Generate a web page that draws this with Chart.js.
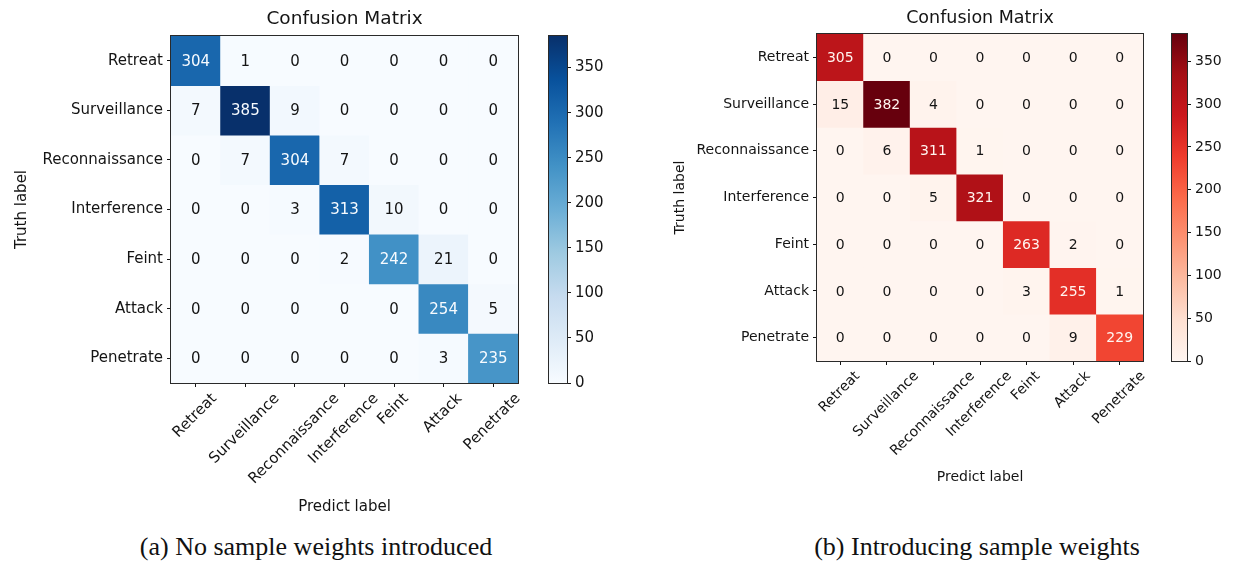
<!DOCTYPE html>
<html>
<head>
<meta charset="utf-8">
<script src="https://cdn.jsdelivr.net/npm/chart.js@4.4.1/dist/chart.umd.min.js"></script>
<style>
  html, body { margin: 0; padding: 0; background: #fff; }
  body { width: 1235px; height: 562px; position: relative; overflow: hidden; }
  canvas { position: absolute; }
  .cap {
    position: absolute; top: 531px; transform: translateX(-50%);
    font-family: "Liberation Serif", "Times New Roman", serif;
    font-size: 26px; line-height: 32px; color: #111; white-space: nowrap;
  }
</style>
</head>
<body>
<canvas id="cmA" width="540" height="530" style="left:0;top:0"></canvas>
<canvas id="cbA" width="77" height="400" style="left:540px;top:0"></canvas>
<canvas id="cmB" width="545" height="500" style="left:620px;top:0"></canvas>
<canvas id="cbB" width="75" height="380" style="left:1160px;top:0"></canvas>
<div class="cap" style="left:316px">(a) No sample weights introduced</div>
<div class="cap" style="left:977px">(b) Introducing sample weights</div>

<script>
// Class names (rows = truth, columns = prediction)
const classLabels = ['Retreat', 'Surveillance', 'Reconnaissance', 'Interference', 'Feint', 'Attack', 'Penetrate'];

// Confusion counts without sample weights
const countsNoWeights = [
  [304,   1,   0,   0,   0,   0,   0],
  [  7, 385,   9,   0,   0,   0,   0],
  [  0,   7, 304,   7,   0,   0,   0],
  [  0,   0,   3, 313,  10,   0,   0],
  [  0,   0,   0,   2, 242,  21,   0],
  [  0,   0,   0,   0,   0, 254,   5],
  [  0,   0,   0,   0,   0,   3, 235]
];

// Confusion counts with sample weights
const countsWeighted = [
  [305,   0,   0,   0,   0,   0,   0],
  [ 15, 382,   4,   0,   0,   0,   0],
  [  0,   6, 311,   1,   0,   0,   0],
  [  0,   0,   5, 321,   0,   0,   0],
  [  0,   0,   0,   0, 263,   2,   0],
  [  0,   0,   0,   0,   3, 255,   1],
  [  0,   0,   0,   0,   0,   9, 229]
];

// Colour-bar tick values
const colorbarTicks = [0, 50, 100, 150, 200, 250, 300, 350];

// Sequential colour maps
const BLUES = ['#f7fbff', '#deebf7', '#c6dbef', '#9ecae1', '#6baed6', '#4292c6', '#2171b5', '#08519c', '#08306b'];
const REDS  = ['#fff5f0', '#fee0d2', '#fcbba1', '#fc9272', '#fb6a4a', '#ef3b2c', '#cb181d', '#a50f15', '#67000d'];

const FONT = '"DejaVu Sans", "Liberation Sans", sans-serif';
const INK = '#141414';

function hexToRgb(h) {
  const n = parseInt(h.slice(1), 16);
  return [(n >> 16) & 255, (n >> 8) & 255, n & 255];
}
function makeCmap(stops) {
  const rgb = stops.map(hexToRgb);
  return t => {
    t = Math.min(1, Math.max(0, t));
    const p = t * (rgb.length - 1);
    const i = Math.min(Math.floor(p), rgb.length - 2);
    const f = p - i;
    const a = rgb[i], b = rgb[i + 1];
    const c = a.map((v, k) => Math.round(v + (b[k] - v) * f));
    return `rgb(${c[0]},${c[1]},${c[2]})`;
  };
}

// Thin frame around the plotting area
const framePlugin = {
  id: 'frame',
  afterDatasetsDraw(chart) {
    const a = chart.chartArea, ctx = chart.ctx;
    ctx.save();
    ctx.strokeStyle = '#2a2a2a';
    ctx.lineWidth = 1;
    ctx.strokeRect(a.left - 0.5, a.top - 0.5, a.width + 1, a.height + 1);
    ctx.restore();
  }
};

function matrixChart(id, counts, stops, d) {
  const cmap = makeCmap(stops);
  const vmax = Math.max(...counts.flat());
  const datasets = counts.map((row, i) => ({
    label: classLabels[i],
    data: row.map(() => [i - 0.5, i + 0.5]),
    backgroundColor: row.map(v => cmap(v / vmax)),
    borderWidth: 0,
    grouped: false,
    barPercentage: 1,
    categoryPercentage: 1
  }));

  // Count written in the middle of every cell
  const cellText = {
    id: 'cellText',
    afterDatasetsDraw(chart) {
      const ctx = chart.ctx, xs = chart.scales.x, ys = chart.scales.y;
      ctx.save();
      ctx.font = `${d.tick}px ${FONT}`;
      ctx.textAlign = 'center';
      ctx.textBaseline = 'middle';
      counts.forEach((row, i) => row.forEach((v, j) => {
        ctx.fillStyle = v > vmax / 2 ? stops[0] : INK;
        ctx.fillText(String(v), xs.getPixelForValue(j), ys.getPixelForValue(i) + 1);
      }));
      ctx.restore();
    }
  };

  // Column labels rotated 45°, each centred under its tick
  const xLabels = {
    id: 'xLabels',
    afterDraw(chart) {
      const ctx = chart.ctx, xs = chart.scales.x;
      const h = d.tick * 1.16;
      const y0 = chart.chartArea.bottom + 4 + d.labelPad;
      ctx.save();
      ctx.font = `${d.tick}px ${FONT}`;
      ctx.fillStyle = INK;
      ctx.textAlign = 'right';
      ctx.textBaseline = 'top';
      classLabels.forEach((lab, j) => {
        const w = ctx.measureText(lab).width;
        const x0 = xs.getPixelForValue(j) + 0.3536 * (w - h);
        ctx.save();
        ctx.translate(x0, y0);
        ctx.rotate(-Math.PI / 4);
        ctx.fillText(lab, 0, 0);
        ctx.restore();
      });
      ctx.restore();
    }
  };

  const lh = d.title * 1.2;
  const axisLh = d.tick * 1.2;
  const tickFont = { family: FONT, size: d.tick };

  return new Chart(document.getElementById(id), {
    type: 'bar',
    data: { labels: classLabels, datasets },
    options: {
      responsive: false,
      animation: false,
      devicePixelRatio: 1,
      layout: { padding: { left: 0, top: 0, right: d.W - d.right, bottom: 0 } },
      plugins: {
        legend: { display: false },
        tooltip: { enabled: false },
        title: {
          display: true,
          text: 'Confusion Matrix',
          fullSize: false,
          color: INK,
          font: { family: FONT, size: d.title, weight: 'normal', lineHeight: 1.2 },
          padding: { top: d.titleY - lh / 2, bottom: d.top - (d.titleY - lh / 2) - lh }
        }
      },
      scales: {
        x: {
          type: 'category',
          offset: true,
          grid: { display: true, drawOnChartArea: false, drawTicks: true, tickLength: 4, color: INK, offset: false },
          border: { display: false },
          ticks: { display: false, autoSkip: false },
          title: {
            display: true,
            text: 'Predict label',
            color: INK,
            font: { family: FONT, size: d.tick, lineHeight: 1.2 },
            padding: { top: 0, bottom: d.H - d.predictY - axisLh / 2 }
          },
          afterFit: s => { s.height = d.H - d.bottom; }
        },
        y: {
          type: 'linear',
          min: -0.5,
          max: 6.5,
          reverse: true,
          afterBuildTicks: s => { s.ticks = classLabels.map((_, i) => ({ value: i })); },
          grid: { display: true, drawOnChartArea: false, drawTicks: true, tickLength: 4, color: INK },
          border: { display: false },
          ticks: {
            padding: 4,
            color: INK,
            font: tickFont,
            callback: v => classLabels[v]
          },
          title: {
            display: true,
            text: 'Truth label',
            color: INK,
            font: { family: FONT, size: d.tick, lineHeight: 1.2 },
            padding: { top: d.truthX - axisLh / 2, bottom: 0 }
          },
          afterFit: s => { s.width = d.left; }
        }
      }
    },
    plugins: [cellText, framePlugin, xLabels]
  });
}

function colorbar(id, counts, stops, d) {
  const vmax = Math.max(...counts.flat());
  return new Chart(document.getElementById(id), {
    type: 'bar',
    data: {
      labels: [''],
      datasets: [{
        data: [[0, vmax]],
        borderWidth: 0,
        barPercentage: 1,
        categoryPercentage: 1,
        backgroundColor(ctx) {
          const ch = ctx.chart;
          if (!ch.chartArea) return stops[0];
          const y = ch.scales.y;
          const g = ch.ctx.createLinearGradient(0, y.getPixelForValue(0), 0, y.getPixelForValue(vmax));
          stops.forEach((c, k) => g.addColorStop(k / (stops.length - 1), c));
          return g;
        }
      }]
    },
    options: {
      responsive: false,
      animation: false,
      devicePixelRatio: 1,
      layout: { padding: { left: d.padL, top: d.top, right: 0, bottom: d.H - d.bottom } },
      plugins: { legend: { display: false }, tooltip: { enabled: false } },
      scales: {
        x: { display: false, offset: true },
        y: {
          position: 'right',
          min: 0,
          max: vmax,
          afterBuildTicks: s => { s.ticks = colorbarTicks.map(v => ({ value: v })); },
          grid: { display: true, drawOnChartArea: false, drawTicks: true, tickLength: 4, color: INK },
          border: { display: false },
          ticks: { padding: 4, color: INK, font: { family: FONT, size: d.tick } },
          afterFit: s => { s.width = d.W - d.padL - d.barW; }
        }
      }
    },
    plugins: [framePlugin]
  });
}

matrixChart('cmA', countsNoWeights, BLUES, {
  W: 540, H: 530, left: 171, right: 518, top: 36, bottom: 383,
  title: 18.5, titleY: 19, tick: 15, labelPad: 4, predictY: 507, truthX: 22
});
colorbar('cbA', countsNoWeights, BLUES, {
  W: 77, H: 400, padL: 9, barW: 18, top: 36, bottom: 383, tick: 15
});

matrixChart('cmB', countsWeighted, REDS, {
  W: 545, H: 500, left: 197, right: 523, top: 34, bottom: 361,
  title: 17.5, titleY: 18, tick: 14, labelPad: 4, predictY: 477, truthX: 60
});
colorbar('cbB', countsWeighted, REDS, {
  W: 75, H: 380, padL: 12, barW: 15, top: 34, bottom: 361, tick: 14
});
</script>
</body>
</html>
